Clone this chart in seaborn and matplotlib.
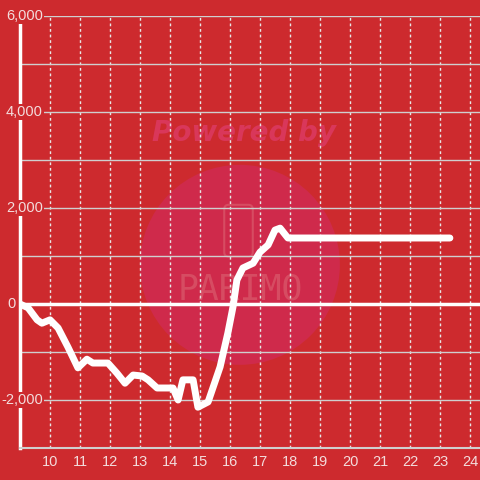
import matplotlib
matplotlib.use("Agg")
import matplotlib.pyplot as plt
import matplotlib.transforms as mtransforms
from matplotlib.patches import Ellipse, FancyBboxPatch
import seaborn as sns
import pandas as pd

# data (hour of day vs. cumulative value)
hours = [9.0, 9.27, 9.57, 9.73, 10.0, 10.27, 10.6, 10.93, 11.23, 11.43, 11.93,
         12.23, 12.5, 12.77, 13.07, 13.27, 13.57, 14.1, 14.27, 14.43, 14.77,
         14.93, 15.27, 15.67, 15.93, 16.1, 16.23, 16.43, 16.77, 17.0, 17.27,
         17.5, 17.67, 17.93, 23.33]
values = [0, -80, -330, -400, -330, -500, -900, -1330, -1150, -1230, -1230,
          -1440, -1650, -1480, -1500, -1580, -1750, -1750, -2000, -1580, -1580,
          -2150, -2040, -1310, -600, -60, 500, 750, 850, 1080, 1230,
          1540, 1580, 1375, 1375]
x_ticks = list(range(10, 25))
y_grid = list(range(-3000, 7000, 1000))
y_labels = {6000: "6,000", 4000: "4,000", 2000: "2,000", 0: "0", -2000: "-2,000"}

bg = "#cd2a2e"
txt = "#f3dcdc"

df = pd.DataFrame({"hour": hours, "value": values})

sns.set_style("white")
plt.rcParams["font.family"] = ["Liberation Sans", "DejaVu Sans"]
fig = plt.figure(figsize=(4.8, 4.8), dpi=100, facecolor=bg)
ax = fig.add_axes([20 / 480, 32 / 480, 460 / 480, 432 / 480])
ax.set_facecolor(bg)

# watermark
ax.add_patch(Ellipse((0.478, 0.424), 200 / 460, 200 / 432, transform=ax.transAxes,
                     facecolor="#cf2a4b", edgecolor="none", zorder=0.1))
ax.text(0.487, 0.729, "Powered by", transform=ax.transAxes, ha="center", va="center",
        fontsize=20, family="DejaVu Sans", fontweight="bold", fontstyle="italic",
        color="#d9375a", zorder=0.2)
ax.text(0.478, 0.368, "PARIMO", transform=ax.transAxes, ha="center", va="center",
        fontsize=25, family="DejaVu Sans Mono", fontweight="light", color="#d9586a",
        alpha=0.75, zorder=0.2)
ax.add_patch(FancyBboxPatch((0.444, 0.443), 0.062, 0.12, transform=ax.transAxes,
                            boxstyle="round,pad=0,rounding_size=0.01",
                            facecolor="none", edgecolor="#d9586a", lw=1.5,
                            alpha=0.75, zorder=0.2))

sns.lineplot(data=df, x="hour", y="value", sort=False, color="white", lw=5,
             ax=ax, zorder=5, solid_joinstyle="round", solid_capstyle="round")

ax.set_xlim(9, 9 + 460 / 30)
ax.set_ylim(-3000, 6000)
ax.set_yticks(y_grid)
ax.set_yticklabels([])
ax.set_xticks(x_ticks)
ax.set_xticklabels([str(t) for t in x_ticks], color=txt, fontsize=10.5)
ax.tick_params(axis="both", length=0)
ax.tick_params(axis="x", pad=5)
ax.set_xlabel("")
ax.set_ylabel("")

ax.grid(axis="y", color="#cfcfcf", lw=1, zorder=0.5)
ax.grid(axis="x", color="#e8e8e8", lw=1, ls=(0, (2, 2)), zorder=0.5)
ax.axhline(0, color="white", lw=2.5, zorder=1)

for s in ["top", "right"]:
    ax.spines[s].set_visible(False)
ax.spines["bottom"].set_color("#cfcfcf")
ax.spines["bottom"].set_linewidth(1.5)
ax.spines["left"].set_color("white")
ax.spines["left"].set_linewidth(2.5)

trans = mtransforms.blended_transform_factory(ax.transAxes, ax.transData)
for v, lab in y_labels.items():
    xpos = -0.009 if v == 0 else 0.05
    ax.text(xpos, v, lab, transform=trans, ha="right", va="center", fontsize=10.5,
            color=txt, zorder=4, clip_on=False,
            bbox=dict(facecolor=bg, edgecolor="none", pad=1))

fig.savefig("out.png", dpi=100, facecolor=bg)
